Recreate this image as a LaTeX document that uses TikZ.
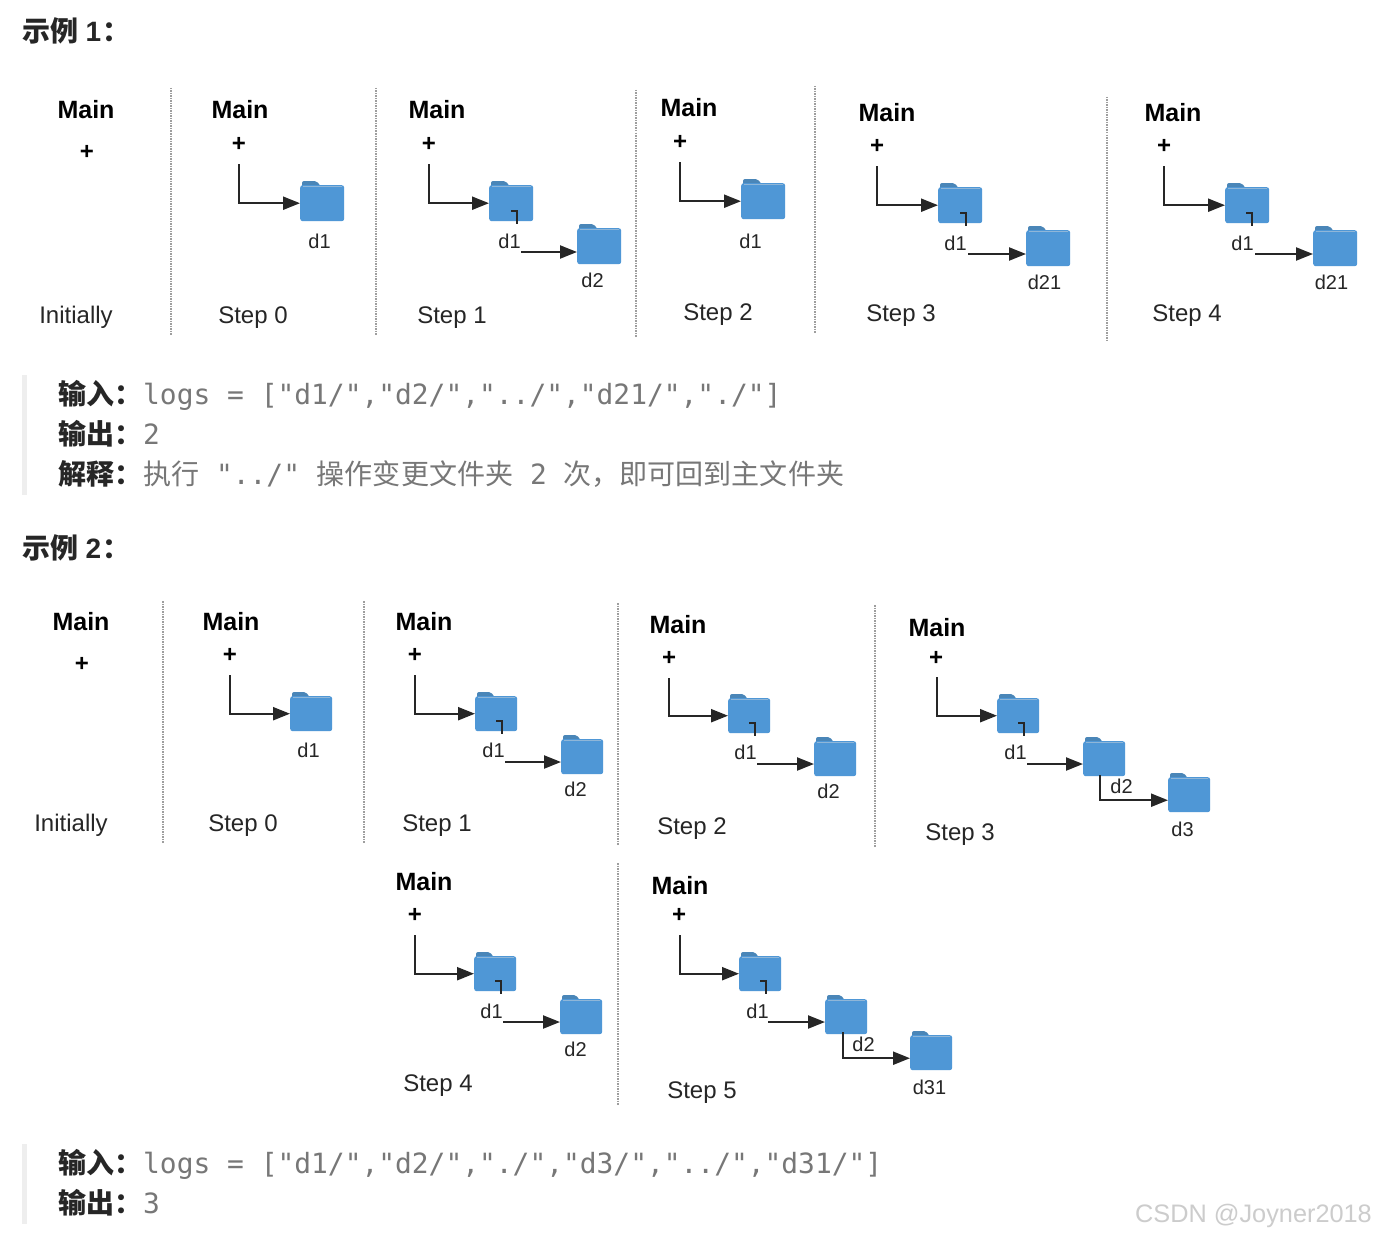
\documentclass[tikz,border=0pt]{standalone}
\usepackage{fontspec}
\setmainfont{Liberation Sans}
\setmonofont{DejaVu Sans Mono}
\newfontfamily\cjk{Noto Sans CJK SC}
\usetikzlibrary{arrows.meta}
\definecolor{fblue}{HTML}{4F97D6}
\definecolor{ftab}{HTML}{4A86B8}
\definecolor{fline}{HTML}{8FB6D8}
\definecolor{quotebar}{HTML}{EEEEEE}
\definecolor{codegray}{HTML}{777777}
\definecolor{headblack}{HTML}{262626}
\tikzset{
  mainlab/.style={font=\fontsize{25}{25}\selectfont\bfseries,text=black,inner sep=0pt},
  pluslab/.style={font=\fontsize{24}{24}\selectfont\bfseries,text=black,inner sep=0pt,yshift=-1pt},
  steplab/.style={font=\fontsize{24}{24}\selectfont,text=headblack,inner sep=0pt,yshift=-2.5pt},
  dlab/.style={font=\fontsize{20}{20}\selectfont,text=headblack,inner sep=0pt,xshift=0.5pt},
  conn/.style={draw=headblack,line width=2.2pt,-{Triangle[length=17pt,width=13pt]}},
  hook/.style={draw=headblack,line width=2.2pt},
  sep/.style={draw=black!38,line width=2pt,dash pattern=on 1.5pt off 1pt},
  fbody/.style={fill=fblue,rounded corners=2.5pt,inner sep=0pt,anchor=north west},
  heading/.style={font=\fontsize{28}{28}\selectfont\cjk\bfseries,text=headblack,anchor=base west,inner sep=0pt},
  codeline/.style={font=\fontsize{27.9}{28}\selectfont\ttfamily,text=codegray,anchor=base west,inner sep=0pt},
  quotebox/.style={fill=quotebar,draw=none},
  wmark/.style={font=\fontsize{25.3}{27}\selectfont,text=black!20,anchor=base west,inner sep=0pt}
}
% name, left x, top y, width, body height
\newcommand{\fold}[5]{%
  \fill[ftab,rounded corners=2pt] (#2+2,#3+8) -- (#2+2,#3) -- (#2+0.38*#4,#3) -- (#2+0.48*#4,#3+6) -- (#2+0.48*#4,#3+8) -- cycle;
  \node[fbody,minimum width=#4 pt,minimum height=#5 pt] (#1) at (#2,#3+4) {};
  \draw[fline,line width=1pt] (#2+3,#3+5.5) -- (#2+#4-2,#3+5.5);
}
\newcommand{\hookat}[3]{% name,x,y: small bent line under a folder
  \coordinate (#1) at (#2-6,#3);
  \draw[hook] (#1) -- (#2,#3) -- (#2,#3+13);
}
\newcommand{\cj}[1]{{\fontsize{28.05}{28}\selectfont\cjk #1}}
\newcommand{\headnum}[1]{\hspace{1pt}{\rmfamily\bfseries #1}\hspace{1.5pt}}
\begin{document}
\begin{tikzpicture}[x=1pt,y=-1pt]
\useasboundingbox (0,0) rectangle (1378,1236);
\fill[white] (0,0) rectangle (1378,1236);

% headings
\node[heading] (h1) at (22,42) {示例 \headnum{1}：};
\node[heading] (h2) at (22,558) {示例 \headnum{2}：};

% ===== example 1 =====
\draw[sep] (171,88) -- (171,335);
\draw[sep] (376,88) -- (376,335);
\draw[sep] (636,90) -- (636,337);
\draw[sep] (815,86) -- (815,333);
\draw[sep] (1107,97) -- (1107,342);

% Initially
\node[mainlab] (am0) at (86,110) {Main};
\node[pluslab] (ap0) at (87,151) {+};
\node[steplab] (as0) at (76,315) {Initially};

% Step 0
\node[mainlab] (am1) at (240,110) {Main};
\node[pluslab] (ap1) at (239,143) {+};
\fold{af1}{300}{181}{44}{36}
\node[dlab] (ad1) at (319,241) {d1};
\coordinate (ac1) at (239,164);
\draw[conn] (ac1) |- (af1.west);
\node[steplab] (as1) at (253,315) {Step 0};

% Step 1
\node[mainlab] (am2) at (437,110) {Main};
\node[pluslab] (ap2) at (429,143) {+};
\fold{af2}{489}{181}{44}{36}
\fold{ag2}{577}{224}{44}{36}
\node[dlab] (ad2) at (509,241) {d1};
\node[dlab] (ae2) at (592,280) {d2};
\coordinate (ac2) at (429,164);
\draw[conn] (ac2) |- (af2.west);
\hookat{ah2}{517}{211}
\coordinate (ai2) at (521,252);
\draw[conn] (ai2) -- (ai2 -| ag2.west);
\node[steplab] (as2) at (452,315) {Step 1};

% Step 2
\node[mainlab] (am3) at (689,108) {Main};
\node[pluslab] (ap3) at (680,141) {+};
\fold{af3}{741}{179}{44}{36}
\node[dlab] (ad3) at (750,241) {d1};
\coordinate (ac3) at (680,162);
\draw[conn] (ac3) |- (af3.west);
\node[steplab] (as3) at (718,312) {Step 2};

% Step 3
\node[mainlab] (am4) at (887,113) {Main};
\node[pluslab] (ap4) at (877,145) {+};
\fold{af4}{938}{183}{44}{36}
\fold{ag4}{1026}{226}{44}{36}
\node[dlab] (ad4) at (955,243) {d1};
\node[dlab] (ae4) at (1044,282) {d21};
\coordinate (ac4) at (877,166);
\draw[conn] (ac4) |- (af4.west);
\hookat{ah4}{966}{213}
\coordinate (ai4) at (968,254);
\draw[conn] (ai4) -- (ai4 -| ag4.west);
\node[steplab] (as4) at (901,313) {Step 3};

% Step 4
\node[mainlab] (am5) at (1173,113) {Main};
\node[pluslab] (ap5) at (1164,145) {+};
\fold{af5}{1225}{183}{44}{36}
\fold{ag5}{1313}{226}{44}{36}
\node[dlab] (ad5) at (1242,243) {d1};
\node[dlab] (ae5) at (1331,282) {d21};
\coordinate (ac5) at (1164,166);
\draw[conn] (ac5) |- (af5.west);
\hookat{ah5}{1252}{213}
\coordinate (ai5) at (1255,254);
\draw[conn] (ai5) -- (ai5 -| ag5.west);
\node[steplab] (as5) at (1187,313) {Step 4};

% quote 1
\fill[quotebox] (22,375) rectangle (27,495);
\node[heading] (q1a) at (58,404) {输入：};
\node[codeline] (q1b) at (143,404) {logs = ["d1/","d2/","../","d21/","./"]};
\node[heading] (q2a) at (58,444) {输出：};
\node[codeline] (q2b) at (143,444) {2};
\node[heading] (q3a) at (58,484) {解释：};
\node[codeline] (q3b) at (143,484) {\cj{执行} "../" \cj{操作变更文件夹} 2 \cj{次，即可回到主文件夹}};

% ===== example 2 =====
\draw[sep] (163,601) -- (163,843);
\draw[sep] (364,601) -- (364,843);
\draw[sep] (618,603) -- (618,845);
\draw[sep] (875,605) -- (875,847);
\draw[sep] (618,863) -- (618,1105);

% Initially
\node[mainlab] (bm0) at (81,622) {Main};
\node[pluslab] (bp0) at (82,663) {+};
\node[steplab] (bs0) at (71,823) {Initially};

% Step 0
\node[mainlab] (bm1) at (231,622) {Main};
\node[pluslab] (bp1) at (230,654) {+};
\fold{bf1}{290}{692}{42}{35}
\node[dlab] (bd1) at (308,750) {d1};
\coordinate (bc1) at (230,675);
\draw[conn] (bc1) |- (bf1.west);
\node[steplab] (bs1) at (243,823) {Step 0};

% Step 1
\node[mainlab] (bm2) at (424,622) {Main};
\node[pluslab] (bp2) at (415,654) {+};
\fold{bf2}{475}{692}{42}{35}
\fold{bg2}{561}{735}{42}{35}
\node[dlab] (bd2) at (493,750) {d1};
\node[dlab] (be2) at (575,789) {d2};
\coordinate (bc2) at (415,675);
\draw[conn] (bc2) |- (bf2.west);
\hookat{bh2}{502}{721}
\coordinate (bi2) at (505,762);
\draw[conn] (bi2) -- (bi2 -| bg2.west);
\node[steplab] (bs2) at (437,823) {Step 1};

% Step 2
\node[mainlab] (bm3) at (678,625) {Main};
\node[pluslab] (bp3) at (669,657) {+};
\fold{bf3}{728}{694}{42}{35}
\fold{bg3}{814}{737}{42}{35}
\node[dlab] (bd3) at (745,752) {d1};
\node[dlab] (be3) at (828,791) {d2};
\coordinate (bc3) at (669,678);
\draw[conn] (bc3) |- (bf3.west);
\hookat{bh3}{755}{723}
\coordinate (bi3) at (757,764);
\draw[conn] (bi3) -- (bi3 -| bg3.west);
\node[steplab] (bs3) at (692,826) {Step 2};

% Step 3
\node[mainlab] (bm4) at (937,628) {Main};
\node[pluslab] (bp4) at (936,657) {+};
\fold{bf4}{997}{694}{42}{35}
\fold{bg4}{1083}{737}{42}{35}
\fold{bk4}{1168}{773}{42}{35}
\node[dlab] (bd4) at (1015,752) {d1};
\node[dlab] (be4) at (1121,786) {d2};
\node[dlab] (bl4) at (1182,829) {d3};
\coordinate (bc4) at (937,677);
\draw[conn] (bc4) |- (bf4.west);
\hookat{bh4}{1024}{723}
\coordinate (bi4) at (1027,764);
\draw[conn] (bi4) -- (bi4 -| bg4.west);
\coordinate (bj4) at (1100,775);
\draw[conn] (bj4) |- ([yshift=-5.5pt]bk4.west);
\node[steplab] (bs4) at (960,832) {Step 3};

% Step 4
\node[mainlab] (bm5) at (424,882) {Main};
\node[pluslab] (bp5) at (415,914) {+};
\fold{bf5}{474}{952}{42}{35}
\fold{bg5}{560}{995}{42}{35}
\node[dlab] (bd5) at (491,1011) {d1};
\node[dlab] (be5) at (575,1049) {d2};
\coordinate (bc5) at (415,935);
\draw[conn] (bc5) |- (bf5.west);
\hookat{bh5}{501}{981}
\coordinate (bi5) at (503,1022);
\draw[conn] (bi5) -- (bi5 -| bg5.west);
\node[steplab] (bs5) at (438,1083) {Step 4};

% Step 5
\node[mainlab] (bm6) at (680,886) {Main};
\node[pluslab] (bp6) at (679,914) {+};
\fold{bf6}{739}{952}{42}{35}
\fold{bg6}{825}{995}{42}{35}
\fold{bk6}{910}{1031}{42}{35}
\node[dlab] (bd6) at (757,1011) {d1};
\node[dlab] (be6) at (863,1044) {d2};
\node[dlab] (bl6) at (929,1087) {d31};
\coordinate (bc6) at (680,935);
\draw[conn] (bc6) |- (bf6.west);
\hookat{bh6}{766}{981}
\coordinate (bi6) at (768,1022);
\draw[conn] (bi6) -- (bi6 -| bg6.west);
\coordinate (bj6) at (843,1032);
\draw[conn] (bj6) |- ([yshift=-5.5pt]bk6.west);
\node[steplab] (bs6) at (702,1090) {Step 5};

% quote 2
\fill[quotebox] (22,1144) rectangle (27,1224);
\node[heading] (r1a) at (58,1173) {输入：};
\node[codeline] (r1b) at (143,1173) {logs = ["d1/","d2/","./","d3/","../","d31/"]};
\node[heading] (r2a) at (58,1213) {输出：};
\node[codeline] (r2b) at (143,1213) {3};

% watermark
\node[wmark] (wm) at (1135,1222) {CSDN @Joyner2018};
\end{tikzpicture}
\end{document}
